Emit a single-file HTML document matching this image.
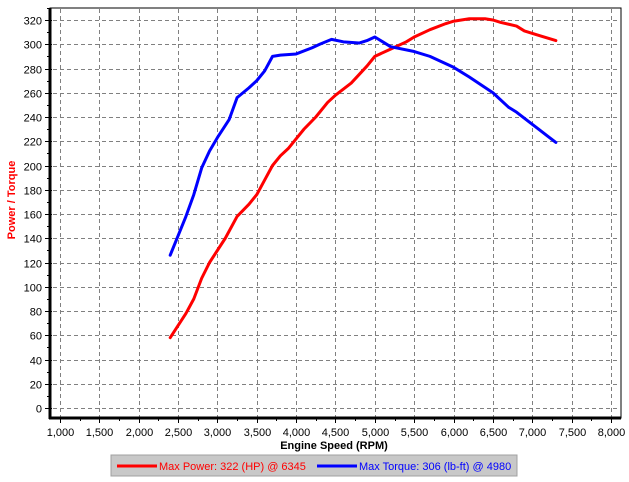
<!DOCTYPE html>
<html><head><meta charset="utf-8"><style>
html,body{margin:0;padding:0;background:#fff;}
svg{display:block;font-family:"Liberation Sans",Arial,sans-serif;}
</style></head><body>
<svg width="629" height="482" viewBox="0 0 629 482" xmlns="http://www.w3.org/2000/svg">
<rect width="629" height="482" fill="#fff"/>
<g id="grid" stroke="#808080" stroke-width="1" stroke-dasharray="4,3" fill="none"></g>
<g id="ticks" stroke="#000" stroke-width="1"></g>
<g id="labels" font-size="11" fill="#000"></g>
<g transform="translate(60,408) scale(0.07871,-1.2125) translate(-1000,0)" fill="none" stroke-linejoin="round" stroke-linecap="round">
<polyline vector-effect="non-scaling-stroke" stroke="#ff0000" stroke-width="3" points="2400,58 2500,68 2600,78 2700,90 2800,107 2900,120 3000,130 3100,140 3250,158 3400,168 3500,176 3600,188 3700,200 3800,208 3900,214 4000,222 4100,230 4250,240 4400,252 4500,258 4700,268 4800,275 4900,282 5000,290 5200,296 5400,302 5500,306 5700,312 5900,317 6000,319 6200,321 6400,321 6500,320 6600,318 6800,315 6900,311 7100,307 7300,303"/>
<polyline vector-effect="non-scaling-stroke" stroke="#0000ff" stroke-width="3" points="2400,126 2500,142 2600,158 2700,176 2800,198 2900,212 3000,223 3150,238 3250,256 3400,264 3500,270 3600,278 3700,290 3800,291 4000,292 4200,297 4300,300 4450,304 4600,302 4800,301 4900,303 5000,306 5100,302 5200,298 5500,294 5700,290 6000,281 6200,273 6500,260 6700,248 6800,244 7000,234 7200,224 7300,219"/>
</g>
<rect x="50" y="8" width="571" height="410" fill="none" stroke="#000" stroke-width="1"/>
<line x1="50" y1="8" x2="50" y2="419" stroke="#000" stroke-width="3"/>
<line x1="49" y1="418" x2="621" y2="418" stroke="#000" stroke-width="3"/>
<text x="15" y="200" transform="rotate(-90 15 200)" text-anchor="middle" font-size="11" font-weight="bold" fill="#ff0000">Power / Torque</text>
<text x="334" y="449" text-anchor="middle" font-size="11" font-weight="bold" fill="#000">Engine Speed (RPM)</text>
<rect x="111" y="455" width="406" height="21" fill="#c8c8c8" stroke="#a0a0a0"/>
<line x1="117" y1="466" x2="157" y2="466" stroke="#ff0000" stroke-width="3"/>
<text x="159" y="470" font-size="11" fill="#ff0000">Max Power: 322 (HP) @ 6345</text>
<line x1="317" y1="466" x2="357" y2="466" stroke="#0000ff" stroke-width="3"/>
<text x="359" y="470" font-size="11" fill="#0000ff">Max Torque: 306 (lb-ft) @ 4980</text>
<script>
var ns="http://www.w3.org/2000/svg";
function el(p,t,a,txt){var e=document.createElementNS(ns,t);for(var k in a)e.setAttribute(k,a[k]);if(txt)e.textContent=txt;document.getElementById(p).appendChild(e);}
function X(r){return 60+(r-1000)*0.07871;}
function Y(v){return 408-v*1.2125;}
for(var v=0;v<=320;v+=20){var y=Math.round(Y(v))+0.5;el("grid","line",{x1:46,x2:620,y1:y,y2:y});el("ticks","line",{x1:45,x2:52,y1:y,y2:y});el("labels","text",{x:42,y:y+4,"text-anchor":"end"},""+v);}
for(var v=10;v<=330;v+=20){var y=Math.round(Y(v))+0.5;el("ticks","line",{x1:47,x2:50,y1:y,y2:y});}
for(var r=1000;r<=8000;r+=500){var x=Math.round(X(r))+0.5;el("grid","line",{x1:x,x2:x,y1:9,y2:422});el("ticks","line",{x1:x,x2:x,y1:417,y2:423});el("labels","text",{x:x,y:436,"text-anchor":"middle"},r.toLocaleString("en-US"));}
for(var r=1250;r<=8000;r+=500){var x=Math.round(X(r))+0.5;el("ticks","line",{x1:x,x2:x,y1:418,y2:421});}
</script>
</svg>
</body></html>
